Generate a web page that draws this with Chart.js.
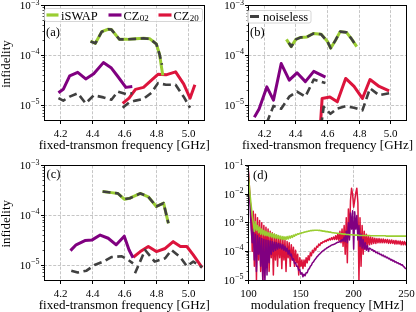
<!DOCTYPE html>
<html><head><meta charset="utf-8">
<script src="https://cdn.jsdelivr.net/npm/chart.js@4.4.1/dist/chart.umd.min.js"></script>
<style>
html,body{margin:0;padding:0;background:#fff;}
#wrap{position:relative;width:416px;height:312px;overflow:hidden;background:#fff;}
#wrap canvas{position:absolute;left:0;top:0;display:block;}
</style></head><body>
<div id="wrap">
<canvas id="pa" width="416" height="312"></canvas>
<canvas id="pb" width="416" height="312"></canvas>
<canvas id="pc" width="416" height="312"></canvas>
<canvas id="pd" width="416" height="312"></canvas>
</div>
<script>
// ---------------- tick labels / titles ----------------
const xTicksF = [4.2, 4.4, 4.6, 4.8, 5.0];
const xLabelsF = ['4.2', '4.4', '4.6', '4.8', '5.0'];
const xTicksD = [100, 150, 200, 250];
const xLabelsD = ['100', '150', '200', '250'];
const yExpF = [-3, -4, -5];
const yExpD = [-1, -2, -3, -4, -5];
const yMinorF = [6e-6,7e-6,8e-6,9e-6,2e-5,3e-5,4e-5,5e-5,6e-5,7e-5,8e-5,9e-5,2e-4,3e-4,4e-4,5e-4,6e-4,7e-4,8e-4,9e-4];
const yMinorD = [2e-5,3e-5,4e-5,5e-5,6e-5,7e-5,8e-5,9e-5,2e-4,3e-4,4e-4,5e-4,6e-4,7e-4,8e-4,9e-4,2e-3,3e-3,4e-3,5e-3,6e-3,7e-3,8e-3,9e-3,2e-2,3e-2,4e-2,5e-2,6e-2,7e-2,8e-2,9e-2];
const xTitleF = 'fixed-transmon frequency [GHz]';
const xTitleD = 'modulation frequency [MHz]';
const yTitle = 'infidelity';

// ---------------- panel (a) ----------------
const aIswapF  = [4.39,4.42,4.46,4.50,4.52,4.57,4.62,4.67,4.72,4.76,4.80,4.82,4.84];
const aIswapV  = [1.95e-4,1.75e-4,3.0e-4,3.35e-4,3.3e-4,2.1e-4,2.1e-4,2.15e-4,2.2e-4,2.15e-4,1.7e-4,1.05e-4,4.0e-5];
const aIswapNF = [4.39,4.42,4.46,4.50,4.52,4.57,4.62,4.67,4.72,4.76,4.80,4.82,4.835];
const aIswapNV = [1.9e-4,1.75e-4,3.0e-4,3.35e-4,3.3e-4,2.1e-4,2.1e-4,2.15e-4,2.2e-4,2.15e-4,1.7e-4,1.05e-4,6.5e-5];
const aCz02F   = [4.19,4.22,4.26,4.31,4.36,4.41,4.47,4.52,4.56,4.61,4.65];
const aCz02V   = [1.8e-5,2.1e-5,3.9e-5,4.6e-5,3.4e-5,4.3e-5,7.2e-5,5.6e-5,3.8e-5,2.3e-5,2.4e-5];
const aCz02NV  = [1.4e-5,1.25e-5,1.5e-5,1.75e-5,1.1e-5,1.6e-5,1.45e-5,1.3e-5,1.9e-5,1.7e-5,1.75e-5];
const aCz20F   = [4.59,4.63,4.67,4.72,4.77,4.81,4.86,4.92,4.97,5.01,5.04];
const aCz20V   = [1.1e-5,1.4e-5,2.1e-5,2.3e-5,3.2e-5,4.2e-5,4.1e-5,4.7e-5,2.7e-5,1.4e-5,2.6e-5];
const aCz20NF  = [4.59,4.63,4.67,4.72,4.77,4.81,4.86,4.92,4.97,5.01];
const aCz20NV  = [9e-6,1.15e-5,1.25e-5,1.35e-5,1.8e-5,2.8e-5,2.6e-5,2.6e-5,1.5e-5,9e-6];

// ---------------- panel (b) ----------------
const bIswapF  = [4.34,4.37,4.40,4.43,4.47,4.51,4.56,4.60,4.62,4.65,4.68,4.72,4.75,4.785];
const bIswapV  = [2.1e-4,1.5e-4,2.1e-4,2.3e-4,2.35e-4,2.75e-4,2.65e-4,1.9e-4,1.4e-4,2.0e-4,3.0e-4,2.9e-4,2.2e-4,1.5e-4];
const bIswapNF = [4.355,4.37,4.40,4.43,4.47,4.51,4.56,4.60,4.62,4.65,4.68,4.72,4.75,4.785];
const bIswapNV = [1.8e-4,1.5e-4,2.1e-4,2.3e-4,2.35e-4,2.75e-4,2.65e-4,1.9e-4,1.4e-4,2.0e-4,3.0e-4,2.9e-4,2.2e-4,1.5e-4];
const bCz02F   = [4.137,4.167,4.216,4.258,4.307,4.358,4.407,4.46,4.513,4.587];
const bCz02V   = [5.8e-6,8.5e-6,2.35e-5,1.28e-5,6.9e-5,3.2e-5,4.5e-5,3.0e-5,4.8e-5,3.7e-5];
const bCz02NF  = [4.216,4.258,4.307,4.358,4.407,4.46,4.513,4.587];
const bCz02NV  = [4.5e-6,9.8e-6,8.6e-6,1.5e-5,1.9e-5,1.5e-5,3.3e-5,2.8e-5];
const bCz20F   = [4.555,4.566,4.615,4.662,4.715,4.768,4.821,4.869,4.927,4.99];
const bCz20V   = [4e-6,1.38e-5,1.48e-5,1.18e-5,3.47e-5,2.4e-5,1.38e-5,3.3e-5,2.4e-5,1.95e-5];
const bCz20NF  = [4.56,4.576,4.619,4.662,4.715,4.768,4.821,4.869,4.927,4.99];
const bCz20NV  = [4e-6,9.4e-6,6.8e-6,8.7e-6,9.7e-6,9.0e-6,8.0e-6,2.2e-5,1.6e-5,1.75e-5];

// ---------------- panel (c) ----------------
const cIswapF  = [4.465,4.52,4.56,4.60,4.635,4.70,4.75,4.80,4.845,4.875];
const cIswapV  = [3.0e-4,2.85e-4,2.75e-4,2.1e-4,2.2e-4,2.75e-4,2.35e-4,1.5e-4,1.75e-4,6.9e-5];
const cIswapNV = [3.0e-4,2.85e-4,2.75e-4,2.1e-4,2.2e-4,2.75e-4,2.35e-4,1.5e-4,1.75e-4,6.9e-5];
const cCz02F   = [4.265,4.30,4.355,4.40,4.45,4.50,4.55,4.60,4.63,4.655];
const cCz02V   = [1.95e-5,2.55e-5,3.1e-5,3.2e-5,4.0e-5,3.45e-5,2.55e-5,3.8e-5,2.0e-5,1.4e-5];
const cCz02NF  = [4.27,4.31,4.365,4.415,4.47,4.52,4.585,4.625,4.655];
const cCz02NV  = [7.7e-6,7.1e-6,7.7e-6,1.0e-5,1.17e-5,1.44e-5,1.5e-5,1.26e-5,1.08e-5];
const cCz20F   = [4.656,4.70,4.75,4.80,4.855,4.905,4.95,4.99,5.03,5.085];
const cCz20V   = [1.43e-5,1.86e-5,2.36e-5,1.86e-5,2.15e-5,2.95e-5,2.36e-5,2.36e-5,1.6e-5,8.9e-6];
const cCz20NF  = [4.667,4.73,4.79,4.855,4.895,4.95,4.99,5.03,5.085];
const cCz20NV  = [6.8e-6,2.0e-5,1.17e-5,1.37e-5,2.0e-5,1.43e-5,9.5e-6,1.17e-5,9e-6];

// ---------------- panel (d) ----------------
const dFreq = [100,101,102,103,104,105,106,107,108,109,110,111,112,113,114,115,116,117,118,119,120,121,122,123,124,125,126,127,128,129,130,131,132,133,134,135,136,137,138,139,140,141,142,143,144,145,146,147,148,149,150,151,152,153,154,155,156,157,158,159,160,161,162,163,164,165,166,167,168,169,170,171,172,173,174,175,176,177,178,179,180,181,182,183,184,185,186,187,188,189,190,191,192,193,194,195,196,197,198,199,200,201,202,203,204,205,206,207,208,209,210,211,212,213,214,215,216,217,218,219,220,221,222,223,224,225,226,227,228,229,230,231,232,233,234,235,236,237,238,239,240,241,242,243,244,245,246,247,248,249,250];
const dIswap = [
6e-2,2.5e-2,9e-3,4e-3,1.8e-3,1e-3,5e-4,1.1e-3,5.5e-4,8e-4,
4.5e-4,7e-4,4e-4,6e-4,3.8e-4,5.4e-4,3.6e-4,5e-4,3.5e-4,4.6e-4,
3.3e-4,4.4e-4,3.2e-4,4.2e-4,3e-4,4e-4,2.9e-4,3.8e-4,2.8e-4,3.6e-4,
2.7e-4,3.4e-4,2.6e-4,3.3e-4,2.6e-4,3.2e-4,2.6e-4,3.3e-4,2.7e-4,3.4e-4,
2.9e-4,3.5e-4,3.1e-4,3.7e-4,3.4e-4,3.9e-4,3.7e-4,4.1e-4,4e-4,4.3e-4,
4.2e-4,4.5e-4,4.5e-4,4.7e-4,4.7e-4,4.9e-4,4.9e-4,5.1e-4,5.1e-4,5.3e-4,
5.3e-4,5.4e-4,5.4e-4,5.5e-4,5.5e-4,5.5e-4,5.5e-4,5.4e-4,5.4e-4,5.3e-4,
5.2e-4,5.1e-4,5.1e-4,5e-4,4.9e-4,4.9e-4,4.8e-4,4.7e-4,4.7e-4,4.6e-4,
4.5e-4,4.5e-4,4.4e-4,4.4e-4,4.3e-4,4.3e-4,4.2e-4,4.2e-4,4.1e-4,4.1e-4,
4e-4,4e-4,4e-4,3.9e-4,3.9e-4,3.9e-4,3.8e-4,3.8e-4,3.8e-4,3.8e-4,
3.7e-4,3.7e-4,3.7e-4,3.7e-4,3.7e-4,3.6e-4,3.6e-4,3.6e-4,3.6e-4,3.6e-4,
3.6e-4,3.6e-4,3.6e-4,3.6e-4,3.6e-4,3.6e-4,3.5e-4,3.5e-4,3.5e-4,3.5e-4,
3.5e-4,3.5e-4,3.5e-4,3.5e-4,3.5e-4,3.5e-4,3.5e-4,3.5e-4,3.5e-4,3.5e-4,
3.5e-4,3.4e-4,3.4e-4,3.4e-4,3.4e-4,3.4e-4,3.4e-4,3.4e-4,3.4e-4,3.4e-4,
3.4e-4,3.4e-4,3.4e-4,3.4e-4,3.4e-4,3.4e-4,3.4e-4,3.4e-4,3.4e-4,3.4e-4,
3.4e-4];
const dCz02 = [
1e-1,2e-2,4e-3,6e-4,2e-4,6e-4,5e-5,4e-4,2e-5,3.5e-4,
8e-5,3e-4,3e-5,2.8e-4,1e-5,2.6e-4,8e-6,2.5e-4,1.5e-5,2.4e-4,
4e-5,2.3e-4,8e-5,2.2e-4,1e-4,2.1e-4,1.1e-4,2e-4,1.2e-4,1.9e-4,
1.3e-4,1.8e-4,1.2e-4,1.7e-4,1.1e-4,1.5e-4,1e-4,1.3e-4,8e-5,1.1e-4,
7e-5,8e-5,5e-5,5.5e-5,3.8e-5,4e-5,3e-5,3e-5,2.2e-5,2.3e-5,
1.6e-5,1.8e-5,1.3e-5,1.6e-5,1.4e-5,1.8e-5,1.8e-5,2.3e-5,2.5e-5,3e-5,
3.3e-5,4e-5,4.3e-5,5e-5,5.5e-5,6.3e-5,6.8e-5,7.6e-5,8.2e-5,9e-5,
9.8e-5,1.05e-4,1.1e-4,1.2e-4,1.25e-4,1.35e-4,1.4e-4,1.5e-4,1.55e-4,1.65e-4,
1.7e-4,1.75e-4,1.8e-4,1.9e-4,2e-4,2.1e-4,2.1e-4,2.3e-4,2.2e-4,2.6e-4,
2.3e-4,3.2e-4,2.2e-4,5e-4,2e-4,1e-3,2.5e-4,2.2e-3,6e-4,2.6e-3,
1.2e-4,2.4e-3,6e-4,1.8e-3,2.5e-4,8e-4,1.5e-4,4e-4,1.3e-4,2.6e-4,
1.2e-4,2e-4,1.1e-4,1.6e-4,1e-4,1.3e-4,1.25e-4,1.1e-4,1.15e-4,1e-4,
1.05e-4,9e-5,9.5e-5,8.3e-5,8.7e-5,7.7e-5,8e-5,7e-5,7.4e-5,6.5e-5,
6.8e-5,6e-5,6.2e-5,5.5e-5,5.7e-5,5e-5,5.2e-5,4.6e-5,4.8e-5,4.2e-5,
4.4e-5,3.9e-5,4e-5,3.6e-5,3.7e-5,3.3e-5,3.4e-5,3e-5,2.8e-5,2.5e-5,
2.5e-5];
const dCz20 = [
1e-1,3e-2,6e-3,3e-3,1e-4,2.5e-3,3e-5,2e-3,1e-5,1.5e-3,
5e-5,1.2e-3,2e-5,1e-3,8e-6,8e-4,3e-5,7e-4,1e-4,6e-4,
2e-5,5e-4,6e-5,4.5e-4,1.5e-5,4e-4,5e-5,3.6e-4,3e-5,3.3e-4,
6e-5,3e-4,2.5e-5,2.7e-4,5e-5,2.5e-4,2e-5,2.2e-4,6e-5,2e-4,
3e-5,1.7e-4,5e-5,1.4e-4,3e-5,1.1e-4,4e-5,8e-5,1.5e-5,6e-5,
3e-5,5e-5,2.5e-5,5e-5,3e-5,6e-5,4e-5,7e-5,5e-5,9e-5,
7e-5,1.1e-4,9e-5,1.3e-4,1.1e-4,1.5e-4,1.4e-4,1.8e-4,1.6e-4,2e-4,
1.9e-4,2.2e-4,2.1e-4,2.4e-4,2.2e-4,2.6e-4,2.4e-4,2.8e-4,2.5e-4,3e-4,
2.6e-4,3.2e-4,2.6e-4,3.5e-4,2.6e-4,4e-4,2.4e-4,5e-4,2e-4,6e-4,
1.5e-4,8e-4,8e-5,1.5e-3,4e-5,3e-3,3e-4,6e-3,1.6e-2,1e-2,
3.5e-3,6e-3,1.1e-2,1.6e-2,5e-3,1e-5,1.5e-3,3e-5,8e-4,8e-5,
5e-4,1.2e-4,4e-4,1.5e-4,3.5e-4,1.7e-4,3.2e-4,1.8e-4,3e-4,1.9e-4,
2.9e-4,1.9e-4,2.8e-4,2e-4,2.8e-4,2e-4,2.7e-4,2e-4,2.7e-4,2e-4,
2.6e-4,2e-4,2.6e-4,1.9e-4,2.5e-4,1.9e-4,2.5e-4,1.9e-4,2.4e-4,1.8e-4,
2.4e-4,1.8e-4,2.3e-4,1.8e-4,2.3e-4,1.7e-4,2.2e-4,1.7e-4,2.2e-4,1.7e-4,
2.1e-4];

// ---------------- styling ----------------
const GREEN = '#9acd32', PURPLE = '#800080', RED = '#dc143c', GREY = '#404040';
const FONT = '"Liberation Serif","Times New Roman",serif';
const W = 416, H = 312;

const pts = (f, v) => f.map((x, i) => ({x: x, y: v[i]}));
function series(f, v, color, w, dash, order) {
  return {data: pts(f, v), borderColor: color, backgroundColor: color, borderWidth: w,
    borderDash: dash || [], order: order, pointRadius: 0, pointHoverRadius: 0, fill: false,
    tension: 0, borderJoinStyle: 'round', borderCapStyle: 'butt', clip: 0};
}
const ND = [8, 4.5];

const DECO = {
  pa: {xTicks: xTicksF, xLabels: xLabelsF, yExp: yExpF, yMinor: yMinorF, xGrid: xTicksF, yGrid: [1e-4, 1e-5],
       xTitle: xTitleF, yTitle: yTitle, panel: '(a)', panelPos: [46, 35.5], legend: 'main'},
  pb: {xTicks: xTicksF, xLabels: xLabelsF, yExp: yExpF, yMinor: yMinorF, xGrid: xTicksF, yGrid: [1e-4, 1e-5],
       xTitle: xTitleF, yTitle: null, panel: '(b)', panelPos: [250, 35.5], legend: 'noise'},
  pc: {xTicks: xTicksF, xLabels: xLabelsF, yExp: yExpF, yMinor: yMinorF, xGrid: xTicksF, yGrid: [1e-4, 1e-5],
       xTitle: xTitleF, yTitle: yTitle, panel: '(c)', panelPos: [46.5, 178], legend: null},
  pd: {xTicks: xTicksD, xLabels: xLabelsD, yExp: yExpD, yMinor: yMinorD, xGrid: [150, 200], yGrid: [1e-2, 1e-3, 1e-4],
       xTitle: xTitleD, yTitle: null, panel: '(d)', panelPos: [253, 179], legend: null}
};

const snap = v => Math.round(v - 0.5) + 0.5;

function rrect(ctx, x, y, w, h, r) {
  ctx.beginPath();
  ctx.moveTo(x + r, y);
  ctx.arcTo(x + w, y, x + w, y + h, r);
  ctx.arcTo(x + w, y + h, x, y + h, r);
  ctx.arcTo(x, y + h, x, y, r);
  ctx.arcTo(x, y, x + w, y, r);
  ctx.closePath();
}

function drawLegendMain(ctx) {
  ctx.save();
  rrect(ctx, 44.5, 8.5, 158, 13, 2);
  ctx.fillStyle = 'rgba(255,255,255,0.85)'; ctx.fill();
  ctx.strokeStyle = '#cccccc'; ctx.lineWidth = 0.8; ctx.stroke();
  const items = [
    {c: GREEN, x0: 46.5, x1: 58.5, tx: 61, t: 'iSWAP', sub: ''},
    {c: PURPLE, x0: 108.5, x1: 121.5, tx: 123.5, t: 'CZ', sub: '02'},
    {c: RED, x0: 158.5, x1: 171.5, tx: 173.5, t: 'CZ', sub: '20'}
  ];
  items.forEach(it => {
    ctx.strokeStyle = it.c; ctx.lineWidth = 3.2; ctx.lineCap = 'butt';
    ctx.beginPath(); ctx.moveTo(it.x0, 15); ctx.lineTo(it.x1, 15); ctx.stroke();
    ctx.fillStyle = '#000'; ctx.textAlign = 'left'; ctx.textBaseline = 'alphabetic';
    ctx.font = '12.5px ' + FONT; ctx.fillText(it.t, it.tx, 19.5);
    if (it.sub) {
      const w = ctx.measureText(it.t).width;
      ctx.font = '9px ' + FONT; ctx.fillText(it.sub, it.tx + w + 0.3, 21.3);
    }
  });
  ctx.restore();
}

function drawLegendNoise(ctx) {
  ctx.save();
  rrect(ctx, 247.5, 10.5, 63.5, 12.5, 2);
  ctx.fillStyle = 'rgba(255,255,255,0.85)'; ctx.fill();
  ctx.strokeStyle = '#cccccc'; ctx.lineWidth = 0.8; ctx.stroke();
  ctx.strokeStyle = GREY; ctx.lineWidth = 3; ctx.lineCap = 'butt';
  ctx.beginPath(); ctx.moveTo(250, 16.5); ctx.lineTo(259, 16.5); ctx.stroke();
  ctx.fillStyle = '#000'; ctx.font = '12.5px ' + FONT; ctx.textAlign = 'left'; ctx.textBaseline = 'alphabetic';
  ctx.fillText('noiseless', 263, 20.5);
  ctx.restore();
}

const decoPlugin = {
  id: 'deco',
  beforeDatasetsDraw(chart) {
    const c = DECO[chart.canvas.id]; if (!c) return;
    const ctx = chart.ctx, a = chart.chartArea, xs = chart.scales.x, ys = chart.scales.y;
    ctx.save();
    ctx.strokeStyle = '#b8b8b8'; ctx.lineWidth = 0.8; ctx.setLineDash([3, 1.6]);
    c.xGrid.forEach(v => { const p = snap(xs.getPixelForValue(v)); ctx.beginPath(); ctx.moveTo(p, a.top); ctx.lineTo(p, a.bottom); ctx.stroke(); });
    c.yGrid.forEach(v => { const p = snap(ys.getPixelForValue(v)); ctx.beginPath(); ctx.moveTo(a.left, p); ctx.lineTo(a.right, p); ctx.stroke(); });
    ctx.restore();
  },
  afterDatasetsDraw(chart) {
    const c = DECO[chart.canvas.id]; if (!c) return;
    const ctx = chart.ctx, a = chart.chartArea, xs = chart.scales.x, ys = chart.scales.y;
    const L = snap(a.left), R = snap(a.right), T = snap(a.top), B = snap(a.bottom);
    ctx.save();
    ctx.setLineDash([]);
    ctx.strokeStyle = '#000'; ctx.lineWidth = 1;
    ctx.strokeRect(L, T, R - L, B - T);
    ctx.fillStyle = '#000';
    // x ticks + labels
    ctx.font = '11px ' + FONT; ctx.textAlign = 'center'; ctx.textBaseline = 'alphabetic';
    c.xTicks.forEach((v, i) => {
      const p = snap(xs.getPixelForValue(v));
      ctx.beginPath(); ctx.moveTo(p, B); ctx.lineTo(p, B + 3.5); ctx.stroke();
      ctx.fillText(c.xLabels[i], p, a.bottom + 16.8);
    });
    // y minor ticks
    ctx.lineWidth = 0.7;
    c.yMinor.forEach(v => {
      const p = snap(ys.getPixelForValue(v));
      ctx.beginPath(); ctx.moveTo(L - 2, p); ctx.lineTo(L, p); ctx.stroke();
    });
    ctx.lineWidth = 1;
    // y major ticks + labels 10^e
    c.yExp.forEach(e => {
      const yv = ys.getPixelForValue(Math.pow(10, e));
      const p = snap(yv);
      ctx.beginPath(); ctx.moveTo(L - 3.5, p); ctx.lineTo(L, p); ctx.stroke();
      const sup = '\u2212' + Math.abs(e);
      const xr = a.left - 4.5;
      ctx.textAlign = 'right';
      ctx.font = '8px ' + FONT;
      const ws = ctx.measureText(sup).width;
      ctx.fillText(sup, xr, yv - 1);
      ctx.font = '11px ' + FONT;
      ctx.fillText('10', xr - ws - 0.3, yv + 3.7);
    });
    // x title
    ctx.font = '13px ' + FONT; ctx.textAlign = 'center'; ctx.textBaseline = 'alphabetic';
    ctx.fillText(c.xTitle, (a.left + a.right) / 2, a.bottom + 28.5);
    // y title
    if (c.yTitle) {
      ctx.save();
      ctx.translate(7, (a.top + a.bottom) / 2 + 1);
      ctx.rotate(-Math.PI / 2);
      ctx.textBaseline = 'middle'; ctx.textAlign = 'center';
      ctx.fillText(c.yTitle, 0, 0);
      ctx.restore();
    }
    // panel label
    ctx.font = '12.5px ' + FONT; ctx.textAlign = 'left'; ctx.textBaseline = 'alphabetic';
    ctx.fillText(c.panel, c.panelPos[0], c.panelPos[1]);
    ctx.restore();
    if (c.legend === 'main') drawLegendMain(ctx);
    if (c.legend === 'noise') drawLegendNoise(ctx);
  }
};

function makeChart(id, area, xr, yr, datasets) {
  return new Chart(document.getElementById(id), {
    type: 'line',
    data: {datasets: datasets},
    options: {
      responsive: false, animation: false, devicePixelRatio: 1,
      events: [],
      layout: {padding: {left: area[0], top: area[1], right: W - area[2], bottom: H - area[3]}},
      scales: {
        x: {type: 'linear', min: xr[0], max: xr[1], display: false},
        y: {type: 'logarithmic', min: yr[0], max: yr[1], display: false}
      },
      plugins: {legend: {display: false}, tooltip: {enabled: false}}
    },
    plugins: [decoPlugin]
  });
}

makeChart('pa', [44, 5.5, 204.5, 120.5], [4.1, 5.1], [5e-6, 1e-3], [
  series(aIswapNF, aIswapNV, GREY, 2.6, ND, 0),
  series(aCz02F, aCz02NV, GREY, 2.6, ND, 0),
  series(aCz20NF, aCz20NV, GREY, 2.6, ND, 0),
  series(aIswapF, aIswapV, GREEN, 3, null, 1),
  series(aCz02F, aCz02V, PURPLE, 3, null, 1),
  series(aCz20F, aCz20V, RED, 3, null, 1)
]);
makeChart('pb', [248.5, 5.5, 406.5, 120.5], [4.1, 5.1], [5e-6, 1e-3], [
  series(bIswapNF, bIswapNV, GREY, 2.6, ND, 0),
  series(bCz02NF, bCz02NV, GREY, 2.6, ND, 0),
  series(bCz20NF, bCz20NV, GREY, 2.6, ND, 0),
  series(bIswapF, bIswapV, GREEN, 3, null, 1),
  series(bCz02F, bCz02V, PURPLE, 3, null, 1),
  series(bCz20F, bCz20V, RED, 3, null, 1)
]);
makeChart('pc', [44, 165.5, 204.5, 280], [4.1, 5.1], [5e-6, 1e-3], [
  series(cIswapF, cIswapNV, GREY, 2.6, ND, 0),
  series(cCz02NF, cCz02NV, GREY, 2.6, ND, 0),
  series(cCz20NF, cCz20NV, GREY, 2.6, ND, 0),
  series(cIswapF, cIswapV, GREEN, 3, null, 1),
  series(cCz02F, cCz02V, PURPLE, 3, null, 1),
  series(cCz20F, cCz20V, RED, 3, null, 1)
]);
makeChart('pd', [248, 165.5, 406.5, 280], [100, 250], [1e-5, 1e-1], [
  series(dFreq, dIswap, GREEN, 1.6, null, 0),
  series(dFreq, dCz02, PURPLE, 1.5, null, 1),
  series(dFreq, dCz20, RED, 1.5, null, 2)
]);
</script>
</body></html>
